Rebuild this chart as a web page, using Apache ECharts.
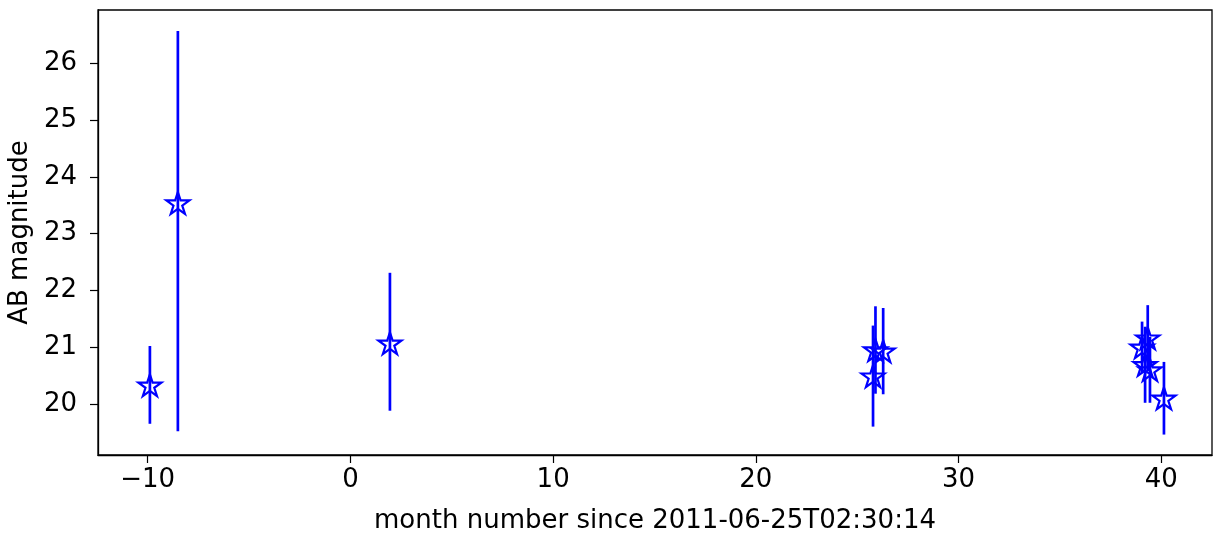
<!DOCTYPE html>
<html>
<head>
<meta charset="utf-8">
<script src="https://cdn.jsdelivr.net/npm/echarts@6/dist/echarts.min.js"></script>
<style>
  html, body { margin: 0; padding: 0; background: #fff; }
  #chart { width: 1213px; height: 535px; }
</style>
</head>
<body>
<div id="chart"></div>
<script>
// months since 2011-06-25T02:30:14, AB magnitude, error below / above
const months = [-9.89, -8.51, 1.95, 25.78, 25.9, 26.28, 39.33, 39.05, 39.2, 39.44, 40.13];
const mags = [20.33, 23.54, 21.07, 20.49, 20.95, 20.93, 21.16, 21.0, 20.69, 20.6, 20.1];
const errLow = [0.68, 4.02, 1.19, 0.89, 0.77, 0.76, 0.58, 0.45, 0.67, 0.58, 0.64];
const errHigh = [0.69, 3.03, 1.24, 0.89, 0.77, 0.76, 0.58, 0.45, 0.67, 0.58, 0.64];

const xTicks = [-10, 0, 10, 20, 30, 40];
const yTicks = [20, 21, 22, 23, 24, 25, 26];

const starPath = "path://M100 0 L122.45 69.1 L195.11 69.1 L136.33 111.8 L158.78 180.9 L100 138.2 L41.22 180.9 L63.67 111.8 L4.89 69.1 L77.55 69.1 Z";

const points = months.map((m, i) => [m, mags[i], errLow[i], errHigh[i]]);

const chart = echarts.init(document.getElementById("chart"));
const font = "DejaVu Sans";

chart.setOption({
  animation: false,
  grid: {
    left: 98, right: 1, top: 10, bottom: 80,
    outerBoundsMode: "none",
    containLabel: false,
    show: true, borderColor: "#000", borderWidth: 1.3,
  },
  xAxis: {
    type: "value",
    min: -12.45, max: 42.5,
    name: "month number since 2011-06-25T02:30:14",
    nameLocation: "middle",
    nameGap: 53,
    nameTextStyle: { fontFamily: font, fontSize: 26, color: "#000" },
    axisLine: { show: true, onZero: false, lineStyle: { color: "#000", width: 1.3 } },
    axisTick: { show: true, length: 8, customValues: xTicks, lineStyle: { color: "#000", width: 1.2 } },
    axisLabel: { customValues: xTicks, margin: 12, fontFamily: font, fontSize: 26, color: "#000",
      formatter: v => (v < 0 ? "\u2212" + Math.abs(v) : String(v)) },
    splitLine: { show: false },
  },
  yAxis: {
    type: "value",
    min: 19.1, max: 26.94,
    name: "AB magnitude",
    nameLocation: "middle",
    nameGap: 64,
    nameTextStyle: { fontFamily: font, fontSize: 26, color: "#000" },
    axisLine: { show: true, onZero: false, lineStyle: { color: "#000", width: 1.3 } },
    axisTick: { show: true, length: 8, customValues: yTicks, lineStyle: { color: "#000", width: 1.2 } },
    axisLabel: { customValues: yTicks, margin: 21, fontFamily: font, fontSize: 26, color: "#000" },
    splitLine: { show: false },
  },
  series: [
    {
      type: "custom",
      data: points,
      renderItem: function (params, api) {
        const x = api.value(0), y = api.value(1);
        const top = api.coord([x, y + api.value(3)]);
        const bot = api.coord([x, y - api.value(2)]);
        return {
          type: "line",
          shape: { x1: top[0], y1: top[1], x2: bot[0], y2: bot[1] },
          style: { stroke: "#0000ff", lineWidth: 2.7 },
        };
      },
      z: 2,
    },
    {
      type: "scatter",
      data: points,
      symbol: starPath,
      symbolKeepAspect: true,
      symbolSize: 23,
      itemStyle: { color: "rgba(0,0,0,0)", borderColor: "#0000ff", borderWidth: 2.2, opacity: 1 },
      z: 3,
    },
  ],
});
</script>
</body>
</html>
